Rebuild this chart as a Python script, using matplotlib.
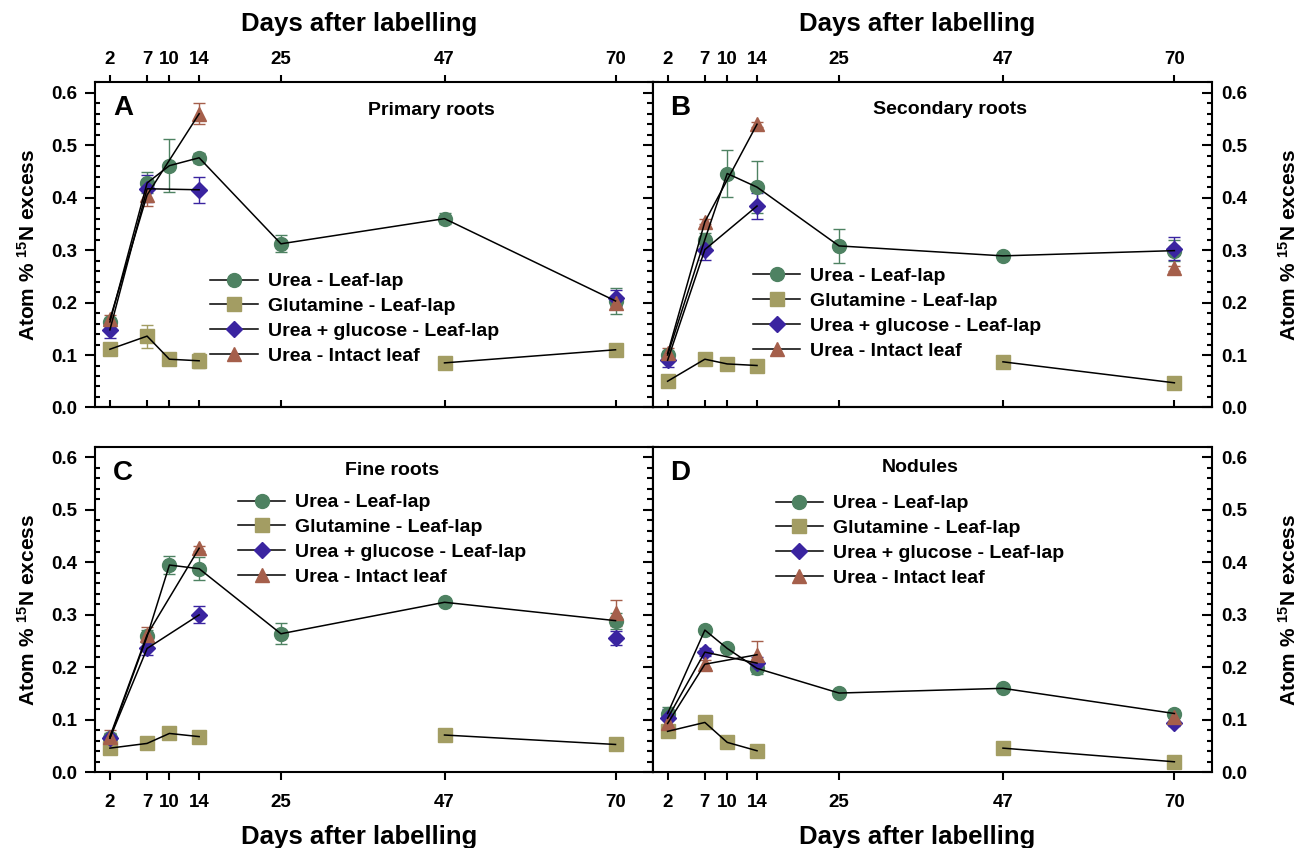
import numpy as np
import matplotlib
matplotlib.use('Agg')
import matplotlib.pyplot as plt
from matplotlib.lines import Line2D
from matplotlib.ticker import MultipleLocator

plt.rcParams['font.family'] = ['Liberation Sans', 'DejaVu Sans']
plt.rcParams['font.weight'] = 'bold'
plt.rcParams['mathtext.fontset'] = 'custom'
plt.rcParams['mathtext.rm'] = 'Liberation Sans:bold'
plt.rcParams['mathtext.bf'] = 'Liberation Sans:bold'
plt.rcParams['mathtext.default'] = 'bf'

nan = np.nan

# sampling days; nan marks a gap where the series was not sampled
DAYS = [2, 7, 10, 14, 25, 47, 70]
DAYS_GLN = [2, 7, 10, 14, 25, 47, 70]
DAYS_SHORT = [2, 7, 14, 25, 70]

LABELS = ['Urea - Leaf-lap', 'Glutamine - Leaf-lap',
          'Urea + glucose - Leaf-lap', 'Urea - Intact leaf']

# A - primary roots
a_urea = [0.163, 0.428, 0.461, 0.476, 0.312, 0.360, 0.203]
a_urea_se = [0.008, 0.020, 0.051, 0.010, 0.016, 0.010, 0.024]
a_gln = [0.111, 0.136, 0.092, 0.089, nan, 0.085, 0.110]
a_gln_se = [0.006, 0.022, 0.005, 0.014, nan, 0.005, 0.005]
a_gluc = [0.148, 0.417, 0.415, nan, 0.209]
a_gluc_se = [0.015, 0.026, 0.025, nan, 0.015]
a_intact = [0.168, 0.405, 0.560, nan, 0.200]
a_intact_se = [0.008, 0.020, 0.020, nan, 0.005]

# B - secondary roots
b_urea = [0.100, 0.320, 0.446, 0.420, 0.308, 0.289, 0.299]
b_urea_se = [0.008, 0.012, 0.045, 0.050, 0.032, 0.006, 0.020]
b_gln = [0.050, 0.092, 0.083, 0.080, nan, 0.087, 0.047]
b_gln_se = [0.004, 0.004, 0.004, 0.004, nan, 0.004, 0.004]
b_gluc = [0.090, 0.301, 0.384, nan, 0.303]
b_gluc_se = [0.012, 0.020, 0.025, nan, 0.022]
b_intact = [0.103, 0.354, 0.540, nan, 0.265]
b_intact_se = [0.010, 0.005, 0.005, nan, 0.005]

# C - fine roots
c_urea = [0.065, 0.259, 0.395, 0.388, 0.264, 0.324, 0.289]
c_urea_se = [0.010, 0.012, 0.017, 0.022, 0.020, 0.006, 0.015]
c_gln = [0.046, 0.055, 0.074, 0.068, nan, 0.071, 0.053]
c_gln_se = [0.004, 0.004, 0.004, 0.004, nan, 0.004, 0.004]
c_gluc = [0.065, 0.236, 0.300, nan, 0.256]
c_gluc_se = [0.008, 0.013, 0.016, nan, 0.013]
c_intact = [0.068, 0.262, 0.427, nan, 0.303]
c_intact_se = [0.013, 0.014, 0.005, nan, 0.025]

# D - nodules
d_urea = [0.112, 0.271, 0.236, 0.198, 0.151, 0.160, 0.112]
d_urea_se = [0.012, 0.006, 0.006, 0.010, 0.005, 0.005, 0.006]
d_gln = [0.078, 0.095, 0.057, 0.041, nan, 0.046, 0.020]
d_gln_se = [0.004, 0.004, 0.004, 0.004, nan, 0.004, 0.004]
d_gluc = [0.103, 0.229, 0.208, nan, 0.093]
d_gluc_se = [0.018, 0.008, 0.012, nan, 0.005]
d_intact = [0.093, 0.206, 0.224, nan, 0.106]
d_intact_se = [0.010, 0.008, 0.027, nan, 0.010]

COLORS = ['#4e8262', '#a39d63', '#3a24a0', '#a55f4b']
MARKERS = ['o', 's', 'D', '^']
MSIZE = [10, 9.5, 8, 10]

LINE_W = 1.1
SPINE_W = 1.5
TICK_FS = 13.5


def draw_panel(ax, series, letter, title, title_xy, leg_xy):
    for i, (x, y, e) in enumerate(series):
        c = COLORS[i]
        ax.errorbar(x, y, yerr=e, fmt='none', ecolor=c, elinewidth=1.0,
                    capsize=4.5, capthick=1.0, zorder=2 + i * 0.1)
        ax.plot(x, y, ls='none', marker=MARKERS[i], ms=MSIZE[i], mfc=c,
                mec=c, zorder=3 + i * 0.1)
        ax.plot(x, y, color='k', lw=LINE_W, zorder=5)

    ax.set_xlim(0, 75)
    ax.set_ylim(0, 0.62)
    ax.set_xticks(DAYS)
    ax.yaxis.set_major_locator(MultipleLocator(0.1))
    ax.yaxis.set_minor_locator(MultipleLocator(0.02))
    for s in ax.spines.values():
        s.set_linewidth(SPINE_W)

    ax.text(0.032, title_xy[2], letter, transform=ax.transAxes, ha='left',
            va='center', fontsize=20, fontweight='bold')
    ax.text(title_xy[0], title_xy[1], title, transform=ax.transAxes,
            ha='center', va='center', fontsize=14, fontweight='bold')

    handles = [Line2D([], [], color='k', lw=LINE_W, marker=MARKERS[i],
                      ms=MSIZE[i], mfc=COLORS[i], mec=COLORS[i])
               for i in range(4)]
    ax.legend(handles, LABELS, loc='upper left', bbox_to_anchor=leg_xy,
              frameon=False, fontsize=14, handlelength=2.45,
              handletextpad=0.5, labelspacing=0.37, borderpad=0,
              borderaxespad=0)


def style_left(ax):
    ax.tick_params(axis='y', which='major', direction='out', length=7,
                   width=SPINE_W, labelsize=TICK_FS, pad=6)
    ax.tick_params(axis='y', which='minor', direction='in', length=3.5,
                   width=SPINE_W)
    # shared spine with the right-hand panel
    sec = ax.secondary_yaxis('right')
    sec.yaxis.set_major_locator(MultipleLocator(0.1))
    sec.yaxis.set_minor_locator(MultipleLocator(0.02))
    sec.tick_params(which='major', direction='inout', length=14,
                    width=SPINE_W, labelright=False)
    sec.tick_params(which='minor', direction='inout', length=8.5,
                    width=SPINE_W)
    sec.spines['right'].set_linewidth(SPINE_W)
    ax.set_ylabel(r'Atom % $^{15}$N excess', fontsize=15, fontweight='bold')
    ax.yaxis.set_label_coords(-0.1, 0.5)


def style_right(ax):
    ax.tick_params(axis='y', which='both', left=False, right=True,
                   labelleft=False, labelright=True, direction='in',
                   width=SPINE_W, labelsize=TICK_FS, pad=7)
    ax.tick_params(axis='y', which='major', length=7)
    ax.tick_params(axis='y', which='minor', length=3.5)
    ax.yaxis.set_label_position('right')
    ax.set_ylabel(r'Atom % $^{15}$N excess', fontsize=15, fontweight='bold')
    ax.yaxis.set_label_coords(1.118, 0.5)


def style_top_row(ax):
    ax.tick_params(axis='x', which='major', top=True, bottom=False,
                   labeltop=True, labelbottom=False, direction='out',
                   length=5, width=SPINE_W, labelsize=TICK_FS, pad=5)
    sec = ax.secondary_xaxis('bottom')
    sec.set_xticks(DAYS)
    sec.tick_params(direction='in', length=5, width=SPINE_W,
                    labelbottom=False)
    sec.spines['bottom'].set_linewidth(SPINE_W)
    ax.xaxis.set_label_position('top')
    ax.set_xlabel('Days after labelling', fontsize=18.5, fontweight='bold',
                  labelpad=15)
    ax.xaxis.label.set_x(0.473)


def style_bottom_row(ax):
    ax.tick_params(axis='x', which='major', top=False, bottom=True,
                   direction='out', length=5.5, width=SPINE_W,
                   labelsize=TICK_FS, pad=10)
    ax.set_xlabel('Days after labelling', fontsize=18.5, fontweight='bold',
                  labelpad=10)
    ax.xaxis.label.set_x(0.473)


fig = plt.figure(figsize=(13.02, 8.48), dpi=100)
ax_a = fig.add_axes([0.073, 0.5195, 0.4283, 0.3835])
ax_b = fig.add_axes([0.5013, 0.5195, 0.4293, 0.3835])
ax_c = fig.add_axes([0.073, 0.0893, 0.4283, 0.3836])
ax_d = fig.add_axes([0.5013, 0.0893, 0.4293, 0.3836])

draw_panel(ax_a, [(DAYS, a_urea, a_urea_se), (DAYS_GLN, a_gln, a_gln_se),
                  (DAYS_SHORT, a_gluc, a_gluc_se),
                  (DAYS_SHORT, a_intact, a_intact_se)],
           'A', 'Primary roots', (0.604, 0.912, 0.921), (0.207, 0.414))
draw_panel(ax_b, [(DAYS, b_urea, b_urea_se), (DAYS_GLN, b_gln, b_gln_se),
                  (DAYS_SHORT, b_gluc, b_gluc_se),
                  (DAYS_SHORT, b_intact, b_intact_se)],
           'B', 'Secondary roots', (0.532, 0.915, 0.921), (0.179, 0.430))
draw_panel(ax_c, [(DAYS, c_urea, c_urea_se), (DAYS_GLN, c_gln, c_gln_se),
                  (DAYS_SHORT, c_gluc, c_gluc_se),
                  (DAYS_SHORT, c_intact, c_intact_se)],
           'C', 'Fine roots', (0.532, 0.929, 0.92), (0.256, 0.856))
draw_panel(ax_d, [(DAYS, d_urea, d_urea_se), (DAYS_GLN, d_gln, d_gln_se),
                  (DAYS_SHORT, d_gluc, d_gluc_se),
                  (DAYS_SHORT, d_intact, d_intact_se)],
           'D', 'Nodules', (0.478, 0.938, 0.92), (0.220, 0.853))

style_left(ax_a)
style_left(ax_c)
style_right(ax_b)
style_right(ax_d)
style_top_row(ax_a)
style_top_row(ax_b)
style_bottom_row(ax_c)
style_bottom_row(ax_d)

fig.savefig('out.png', dpi=100, facecolor='white')
